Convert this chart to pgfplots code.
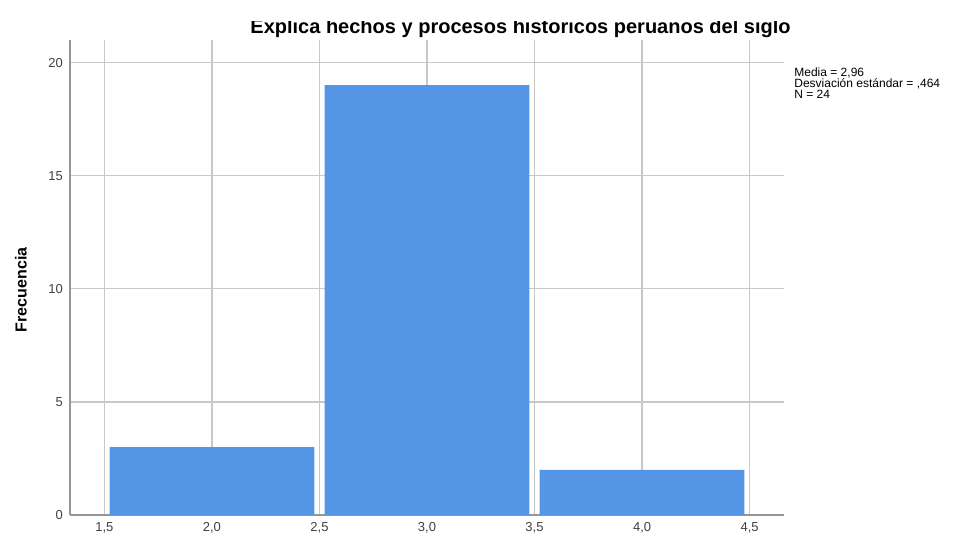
\documentclass[border=0pt]{standalone}
\usepackage{pgfplots}
\pgfplotsset{compat=1.18}
\usepackage{fontspec}
\setmainfont{Liberation Sans}
\definecolor{barblue}{RGB}{85,149,229}
\definecolor{gridgray}{RGB}{200,200,200}
\definecolor{axisgray}{RGB}{150,150,150}
\begin{document}
\begin{tikzpicture}
\begin{axis}[
    at={(0,0)}, anchor=south west,
    scale only axis,
    width=357pt, height=237.5pt,
    xmin=1.34, xmax=4.66,
    ymin=0, ymax=21,
    axis lines=left,
    axis line style={-, draw=axisgray, line width=0.7pt},
    xtick={1.5,2,2.5,3,3.5,4,4.5},
    ytick={0,5,10,15,20},
    grid=major,
    major grid style={draw=gridgray, line width=0.6pt},
    major tick length=0pt,
    tick label style={font=\fontsize{6.5}{7}\selectfont, text=black!75},
    /pgf/number format/assume math mode=true,
    x tick label style={/pgf/number format/.cd, use comma, fixed, fixed zerofill, precision=1},
    ylabel={\bfseries Frecuencia},
    every axis y label/.style={at={(axis description cs:-0.0687,0.474)}, rotate=90, anchor=center, font=\fontsize{8}{9}\selectfont},
    clip=false,
]
\addplot[ybar, bar width=0.952, fill=barblue, draw=none] coordinates {(2,3) (3,19) (4,2)};

\node[anchor=base, inner sep=0pt, font=\fontsize{10}{11}\selectfont\bfseries]
    at ([yshift=3.5pt]axis description cs:0.631,1) {Explica hechos y procesos historicos peruanos del siglo};
\node[anchor=north west, inner sep=0pt, align=left, font=\fontsize{6}{5.5}\selectfont]
    at ([xshift=5pt, yshift=-13.5pt]axis description cs:1,1) {Media = 2,96\\Desviación estándar = ,464\\N = 24};
\end{axis}
\fill[white] (-35pt,247pt) rectangle (445pt,260pt);
\pgfresetboundingbox
\useasboundingbox (-35pt,-8.5pt) rectangle (445pt,257.5pt);
\end{tikzpicture}
\end{document}
